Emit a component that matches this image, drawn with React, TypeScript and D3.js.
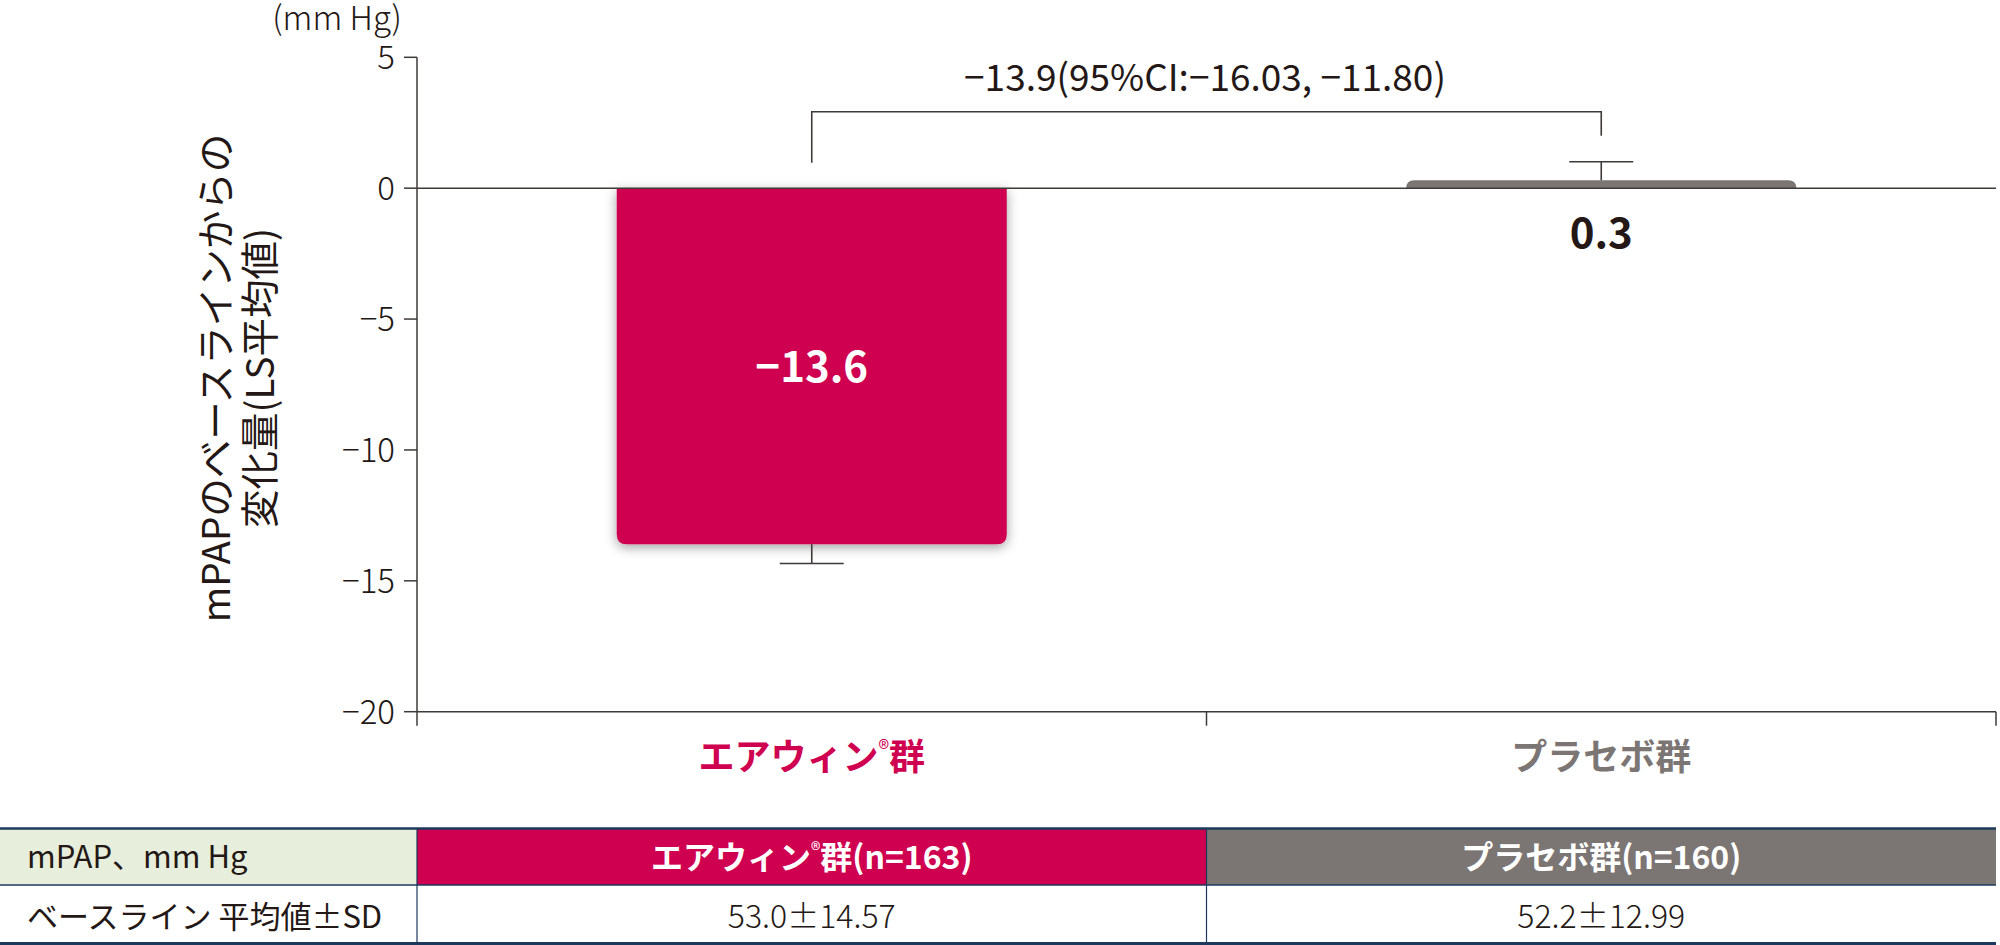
import * as d3 from 'd3';

const groups = ['エアウィン®群', 'プラセボ群'];
const lsMeans = [-13.6, 0.3];
const seValues = [0.74, 0.71];
const valueLabels = ['−13.6', '0.3'];
const groupColors = ['#cf004f', '#7b7574'];
const yTicks = [5, 0, -5, -10, -15, -20];
const diffLabel = '−13.9(95%CI:−16.03, −11.80)';
const tableHeader = ['mPAP、mm Hg', 'エアウィン®群(n=163)', 'プラセボ群(n=160)'];
const baselineRow = ['ベースライン 平均値±SD', '53.0±14.57', '52.2±12.99'];
const yTitle = ['mPAPのベースラインからの', '変化量(LS平均値)'];

const W = 2000;
const H = 945;
const margin = { top: 57.3, right: 4, bottom: 233.3, left: 417 };
const FONT = '"Noto Sans CJK JP", "Noto Sans", sans-serif';
const INK = '#231815';
const AXIS = '#3e3a39';
const NAVY = '#1d3a5c';

// splits on ® so it can be drawn as a small superscript
function withMark(label: string, size: number) {
  const parts = label.split('®');
  if (parts.length === 1) return label;
  return [
    <tspan key="a">{parts[0]}</tspan>,
    <tspan key="r" fontSize={size * 0.62} fontWeight={400} dy={-size * 0.36}>®</tspan>,
    <tspan key="b" dy={size * 0.36}>{parts[1]}</tspan>,
  ];
}

// bar with rounded corners on the end away from zero
function barPath(x: number, w: number, yZero: number, yEnd: number, r: number) {
  const h = Math.abs(yEnd - yZero);
  const rr = Math.min(r, h, w / 2);
  if (yEnd > yZero) {
    return `M${x},${yZero}H${x + w}V${yEnd - rr}Q${x + w},${yEnd} ${x + w - rr},${yEnd}H${x + rr}Q${x},${yEnd} ${x},${yEnd - rr}Z`;
  }
  return `M${x},${yZero}V${yEnd + rr}Q${x},${yEnd} ${x + rr},${yEnd}H${x + w - rr}Q${x + w},${yEnd} ${x + w},${yEnd + rr}V${yZero}Z`;
}

export default function App() {
  const x = d3.scaleBand<string>()
    .domain(groups)
    .range([margin.left, W - margin.right])
    .padding(0);

  const y = d3.scaleLinear()
    .domain([-20, 5])
    .range([H - margin.bottom, margin.top]);

  const barW = x.bandwidth() * 0.494;
  const cx = (g: string) => x(g)! + x.bandwidth() / 2;
  const fmt = d3.format('');

  const tableTop = 828.5;
  const rowH = [56.5, 58.5];
  const colX = [0, margin.left, x(groups[1])!, W - margin.right];

  return (
    <svg
      width={W}
      height={H}
      style={{ position: 'absolute', left: 0, top: 0, background: '#fff' }}
      fontFamily={FONT}
    >
      <defs>
        <filter id="shadow" x="-10%" y="-10%" width="120%" height="130%">
          <feDropShadow dx="0" dy="3" stdDeviation="6" floodColor="#000" floodOpacity="0.38" />
        </filter>
      </defs>

      {/* unit label */}
      <text x={402} y={30} textAnchor="end" fontSize={33} fontWeight={300} fill={INK}>(mm Hg)</text>

      {/* y axis title */}
      {yTitle.map((t, i) => (
        <text
          key={t}
          transform={`translate(${213 + i * 44},378) rotate(-90)`}
          textAnchor="middle"
          dominantBaseline="central"
          fontSize={38.5}
          fill={INK}
        >{t}</text>
      ))}

      {/* y axis */}
      <line x1={margin.left} x2={margin.left} y1={y(5)} y2={y(-20)} stroke={AXIS} strokeWidth={1.5} />
      {yTicks.map(t => (
        <g key={t} transform={`translate(0,${y(t)})`}>
          <line x1={margin.left - 13} x2={margin.left} stroke={AXIS} strokeWidth={1.5} />
          <text x={margin.left - 22} dy="0.36em" textAnchor="end" fontSize={33} fontWeight={300} fill={INK}>
            {fmt(t).replace('-', '−')}
          </text>
        </g>
      ))}

      {/* bars */}
      {groups.map((g, i) => (
        <path
          key={g}
          d={barPath(cx(g) - barW / 2, barW, y(0), y(lsMeans[i]), 10)}
          fill={groupColors[i]}
          filter={i === 0 ? 'url(#shadow)' : undefined}
        />
      ))}

      {/* error bars */}
      {groups.map((g, i) => {
        const end = lsMeans[i] < 0 ? lsMeans[i] - seValues[i] : lsMeans[i] + seValues[i];
        return (
          <g key={g} stroke={AXIS} strokeWidth={1.6}>
            <line x1={cx(g)} x2={cx(g)} y1={y(lsMeans[i])} y2={y(end)} />
            <line x1={cx(g) - 32} x2={cx(g) + 32} y1={y(end)} y2={y(end)} />
          </g>
        );
      })}

      {/* zero line and bottom axis */}
      <line x1={margin.left} x2={W - margin.right} y1={y(0)} y2={y(0)} stroke={AXIS} strokeWidth={1.6} />
      <line x1={margin.left} x2={W - margin.right} y1={y(-20)} y2={y(-20)} stroke={AXIS} strokeWidth={1.6} />
      {[margin.left, x(groups[1])!, W - margin.right].map(v => (
        <line key={v} x1={v} x2={v} y1={y(-20)} y2={y(-20) + 14} stroke={AXIS} strokeWidth={1.5} />
      ))}

      {/* value labels */}
      <text x={cx(groups[0])} y={382} textAnchor="middle" fontSize={42} fontWeight={700} fill="#fff">{valueLabels[0]}</text>
      <text x={cx(groups[1])} y={248} textAnchor="middle" fontSize={42} fontWeight={700} fill={INK}>{valueLabels[1]}</text>

      {/* difference bracket */}
      <path
        d={`M${cx(groups[0])},${y(0.97)}V${y(2.92)}H${cx(groups[1])}V${y(2.0)}`}
        fill="none"
        stroke={AXIS}
        strokeWidth={1.6}
      />
      <text x={1205} y={91} textAnchor="middle" fontSize={37} fill={INK}>{diffLabel}</text>

      {/* category labels */}
      {groups.map((g, i) => (
        <text key={g} x={cx(g)} y={770} textAnchor="middle" fontSize={36} fontWeight={700} fill={groupColors[i]}>
          {withMark(g, 36)}
        </text>
      ))}

      {/* baseline table */}
      <rect x={colX[0]} y={tableTop} width={colX[1] - colX[0]} height={rowH[0]} fill="#e7efdc" />
      <rect x={colX[1]} y={tableTop} width={colX[2] - colX[1]} height={rowH[0]} fill={groupColors[0]} />
      <rect x={colX[2]} y={tableTop} width={colX[3] - colX[2]} height={rowH[0]} fill={groupColors[1]} />
      <line x1={0} x2={colX[3]} y1={tableTop} y2={tableTop} stroke={NAVY} strokeWidth={2.5} />
      <line x1={0} x2={colX[3]} y1={tableTop + rowH[0]} y2={tableTop + rowH[0]} stroke={NAVY} strokeWidth={1.5} />
      <line x1={0} x2={colX[3]} y1={tableTop + rowH[0] + rowH[1]} y2={tableTop + rowH[0] + rowH[1]} stroke={NAVY} strokeWidth={3} />
      {[colX[1], colX[2]].map(v => (
        <line key={v} x1={v} x2={v} y1={tableTop} y2={tableTop + rowH[0] + rowH[1]} stroke={NAVY} strokeWidth={1.2} />
      ))}
      <text x={27} y={868} fontSize={31} fill={INK}>{tableHeader[0]}</text>
      {[1, 2].map(c => (
        <text key={c} x={(colX[c] + colX[c + 1]) / 2} y={869} textAnchor="middle" fontSize={32} fontWeight={700} fill="#fff">
          {withMark(tableHeader[c], 32)}
        </text>
      ))}
      <text x={27} y={928} fontSize={31} fill={INK}>{baselineRow[0]}</text>
      {[1, 2].map(c => (
        <text key={c} x={(colX[c] + colX[c + 1]) / 2} y={928} textAnchor="middle" fontSize={32} fontWeight={300} fill={INK}>
          {baselineRow[c]}
        </text>
      ))}
    </svg>
  );
}
